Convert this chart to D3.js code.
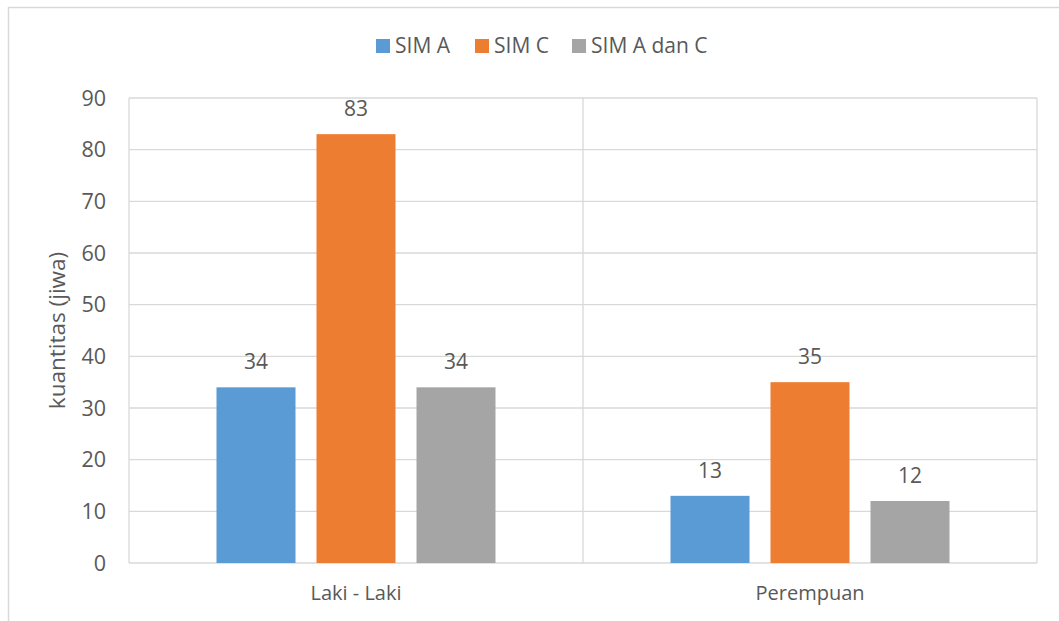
<!DOCTYPE html>
<html><head><meta charset="utf-8">
<script src="https://cdn.jsdelivr.net/npm/d3@7"></script>
<style>
html,body{margin:0;padding:0;background:#fff;}
svg{display:block;}
text{font-family:"Open Sans",sans-serif;fill:#595959;}
</style></head>
<body>
<svg id="chart" width="1059" height="621"></svg>
<script>
const categories = ["Laki - Laki", "Perempuan"];
const seriesNames = ["SIM A", "SIM C", "SIM A dan C"];
const simA = [34, 13];
const simC = [83, 35];
const simAC = [34, 12];
const yTicks = [0, 10, 20, 30, 40, 50, 60, 70, 80, 90];
const colors = ["#5B9BD5", "#ED7D31", "#A5A5A5"];

const seriesValues = [simA, simC, simAC];
const svg = d3.select("#chart");
const plot = {left: 129, right: 1037, top: 98, bottom: 563};
const grid = "#D9D9D9";

// outer chart border
svg.append("rect").attr("x", 8.5).attr("y", 7.5).attr("width", 1200).attr("height", 800)
  .attr("fill", "none").attr("stroke", grid).attr("stroke-width", 1.5);

const x0 = d3.scaleBand().domain(categories).range([plot.left, plot.right]).padding(0);
const y = d3.scaleLinear().domain([0, 90]).range([plot.bottom, plot.top]);
const groupW = 279;
const x1 = d3.scaleBand().domain(seriesNames).range([-groupW / 2, groupW / 2]).paddingInner(0.21).paddingOuter(0);

// horizontal gridlines
svg.append("g").selectAll("line").data(yTicks).join("line")
  .attr("x1", plot.left).attr("x2", plot.right)
  .attr("y1", d => y(d)).attr("y2", d => y(d))
  .attr("stroke", grid).attr("stroke-width", 1.3);

// vertical lines: left axis, category dividers, right border
const vlines = [plot.left].concat(categories.map(c => x0(c) + x0.bandwidth()));
svg.append("g").selectAll("line").data(vlines).join("line")
  .attr("x1", d => d).attr("x2", d => d)
  .attr("y1", plot.top).attr("y2", plot.bottom)
  .attr("stroke", grid).attr("stroke-width", 1.3);

// y tick labels
svg.append("g").selectAll("text").data(yTicks).join("text")
  .attr("x", 106).attr("y", d => y(d)).attr("dy", "0.35em")
  .attr("text-anchor", "end").attr("font-size", 21.5)
  .text(d => d);

// bars
const bars = [];
categories.forEach((c, ci) => {
  seriesNames.forEach((s, si) => {
    bars.push({cat: c, series: s, si: si, value: seriesValues[si][ci]});
  });
});
const cx = c => x0(c) + x0.bandwidth() / 2;
svg.append("g").selectAll("rect").data(bars).join("rect")
  .attr("x", d => cx(d.cat) + x1(d.series))
  .attr("width", x1.bandwidth())
  .attr("y", d => y(d.value))
  .attr("height", d => y(0) - y(d.value))
  .attr("fill", d => colors[d.si]);

// data labels
svg.append("g").selectAll("text").data(bars).join("text")
  .attr("x", d => cx(d.cat) + x1(d.series) + x1.bandwidth() / 2)
  .attr("y", d => y(d.value) - 18)
  .attr("text-anchor", "middle").attr("font-size", 21)
  .text(d => d.value);

// category labels
svg.append("g").selectAll("text").data(categories).join("text")
  .attr("x", d => cx(d)).attr("y", 600)
  .attr("text-anchor", "middle").attr("font-size", 20)
  .text(d => d);

// y axis title
svg.append("text")
  .attr("transform", `translate(57,${(plot.top + plot.bottom) / 2}) rotate(-90)`)
  .attr("dy", "0.35em")
  .attr("text-anchor", "middle").attr("font-size", 22.5)
  .text("kuantitas (jiwa)");

// legend
const legendX = [376, 475, 572];
const lg = svg.append("g").selectAll("g").data(seriesNames).join("g")
  .attr("transform", (d, i) => `translate(${legendX[i]},39)`);
lg.append("rect").attr("width", 14).attr("height", 14).attr("fill", (d, i) => colors[i]);
lg.append("text").attr("x", 19).attr("y", 7).attr("dy", "0.35em")
  .attr("font-size", 21).text(d => d);
</script>
</body></html>
